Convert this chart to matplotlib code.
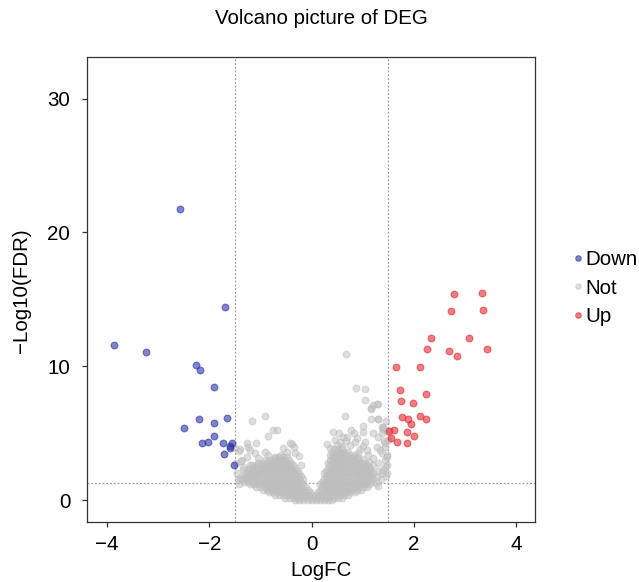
import numpy as np
import matplotlib
matplotlib.use("Agg")
import matplotlib.pyplot as plt
from matplotlib.lines import Line2D

plt.rcParams['font.family'] = ['Liberation Sans', 'DejaVu Sans']

# ---------------- data ----------------
down_x = [-2.58, -1.69, -3.86, -3.24, -2.27, -2.19, -1.90, -2.20, -1.90, -1.65,
          -2.49, -1.90, -2.02, -2.15, -1.73, -1.60, -1.59, -1.55, -1.72, -1.52]
down_y = [21.74, 14.40, 11.57, 11.07, 10.12, 9.72, 8.43, 6.07, 5.77, 6.12,
          5.40, 4.78, 4.37, 4.28, 4.25, 4.07, 3.93, 4.30, 3.43, 2.63]

up_x = [2.79, 3.34, 2.73, 3.35, 2.33, 3.08, 2.25, 2.69, 2.84, 3.44,
        1.66, 2.13, 1.73, 2.23, 1.75, 1.98, 1.76, 1.89, 1.94, 2.13,
        2.23, 1.62, 1.52, 1.86, 1.55, 2.00, 1.68, 1.87]
up_y = [15.37, 15.49, 14.13, 14.22, 12.11, 12.11, 11.27, 11.16, 10.79, 11.27,
        9.93, 9.93, 8.23, 7.93, 7.39, 7.26, 6.24, 6.07, 5.72, 6.31,
        6.07, 5.25, 5.15, 5.12, 4.65, 4.78, 4.35, 4.25]

# "Not" genes: dense core of the volcano, estimated row by row (y, x values)
not_core_rows = [
    (0.0, [-0.32, -0.24, -0.16, -0.08, 0.00, 0.08, 0.16, 0.24, 0.32, 0.40]),
    (0.2, [-0.52, -0.44, -0.36, -0.28, -0.20, -0.12, -0.04, 0.04, 0.12, 0.20, 0.28, 0.36,
           0.44, 0.52, 0.60]),
    (0.4, [-0.72, -0.64, -0.56, -0.48, -0.40, -0.32, -0.24, -0.16, -0.08, 0.00, 0.08, 0.16,
           0.24, 0.32, 0.40, 0.48, 0.56, 0.64, 0.72]),
    (0.6, [-0.84, -0.76, -0.68, -0.60, -0.52, -0.44, -0.36, -0.28, -0.20, -0.12, -0.04,
           0.12, 0.20, 0.28, 0.36, 0.44, 0.52, 0.60, 0.68, 0.76, 0.84]),
    (0.8, [-0.96, -0.88, -0.80, -0.72, -0.64, -0.56, -0.48, -0.40, -0.32, -0.24, -0.16, -0.08,
           0.16, 0.24, 0.32, 0.40, 0.48, 0.56, 0.64, 0.72, 0.80, 0.88, 0.96]),
    (1.0, [-1.08, -1.00, -0.92, -0.84, -0.76, -0.68, -0.60, -0.52, -0.44, -0.36, -0.28, -0.20,
           -0.12, 0.20, 0.28, 0.36, 0.44, 0.52, 0.60, 0.68, 0.76, 0.84, 0.92, 1.00, 1.08]),
    (1.2, [-1.20, -1.12, -1.04, -0.96, -0.88, -0.80, -0.72, -0.64, -0.56, -0.48, -0.40, -0.32,
           -0.24, -0.16, 0.16, 0.24, 0.32, 0.40, 0.48, 0.56, 0.64, 0.72, 0.80, 0.88, 0.96,
           1.04, 1.12]),
    (1.4, [-1.32, -1.24, -1.16, -1.08, -1.00, -0.92, -0.84, -0.76, -0.68, -0.60, -0.52, -0.44,
           -0.36, -0.28, -0.20, 0.20, 0.28, 0.36, 0.44, 0.52, 0.60, 0.68, 0.76, 0.84, 0.92,
           1.00, 1.08, 1.16]),
    (1.6, [-1.36, -1.28, -1.20, -1.12, -1.04, -0.96, -0.88, -0.80, -0.72, -0.64, -0.56, -0.48,
           -0.40, -0.32, -0.24, -0.16, 0.24, 0.32, 0.40, 0.48, 0.56, 0.64, 0.72, 0.80, 0.88,
           0.96, 1.04, 1.12, 1.20]),
    (1.8, [-1.32, -1.24, -1.16, -1.08, -1.00, -0.92, -0.84, -0.76, -0.68, -0.60, -0.52, -0.44,
           -0.36, -0.28, -0.20, 0.28, 0.36, 0.44, 0.52, 0.60, 0.68, 0.76, 0.84, 0.92, 1.00,
           1.08, 1.16]),
    (2.0, [-1.28, -1.20, -1.12, -1.04, -0.96, -0.88, -0.80, -0.72, -0.64, -0.56, -0.48, -0.40,
           -0.32, -0.24, 0.24, 0.32, 0.40, 0.48, 0.56, 0.64, 0.72, 0.80, 0.88, 0.96, 1.04,
           1.12, 1.20]),
    (2.2, [-1.24, -1.16, -1.08, -1.00, -0.92, -0.84, -0.76, -0.68, -0.60, -0.52, -0.44, -0.36,
           -0.28, 0.28, 0.36, 0.44, 0.52, 0.60, 0.68, 0.76, 0.84, 0.92, 1.00, 1.08, 1.16]),
    (2.4, [-1.20, -1.12, -1.04, -0.96, -0.88, -0.80, -0.72, -0.64, -0.56, -0.48, -0.40, -0.32,
           0.32, 0.40, 0.48, 0.56, 0.64, 0.72, 0.80, 0.88, 0.96, 1.04, 1.12]),
    (2.6, [-1.16, -1.08, -1.00, -0.92, -0.84, -0.76, -0.68, -0.60, -0.52, -0.44, -0.36,
           0.36, 0.44, 0.52, 0.60, 0.68, 0.76, 0.84, 0.92, 1.00, 1.08]),
    (2.8, [-1.04, -0.96, -0.88, -0.80, -0.72, -0.64, -0.56, -0.48, -0.40,
           0.32, 0.40, 0.48, 0.56, 0.64, 0.72, 0.80, 0.88, 0.96, 1.04]),
    (3.0, [-0.92, -0.84, -0.76, -0.68, -0.60, -0.52, -0.44,
           0.36, 0.44, 0.52, 0.60, 0.68, 0.76, 0.84, 0.92]),
    (3.2, [-0.72, -0.64, -0.56, -0.48, 0.40, 0.48, 0.56, 0.64, 0.72, 0.80, 0.88]),
    (3.4, [0.36, 0.44, 0.52, 0.60, 0.68, 0.76, 0.84]),
    (3.6, [0.40, 0.48, 0.56, 0.64, 0.72]),
    (3.8, [0.44, 0.52, 0.60]),
]

# "Not" genes: scattered points around the core
not_outer = [
    (0.67, 10.92), (0.87, 8.36), (1.04, 8.31), (1.04, 7.49), (0.65, 6.31), (1.29, 7.16),
    (1.17, 6.81), (1.21, 7.11), (1.17, 6.04), (1.29, 6.04), (1.01, 5.54), (1.40, 5.30),
    (1.47, 5.17), (0.42, 5.12), (0.54, 5.00), (0.83, 5.00), (0.70, 4.75), (0.46, 4.50),
    (1.21, 5.00), (1.30, 4.75), (1.41, 4.43), (0.85, 4.37), (1.04, 4.37), (1.01, 4.05),
    (1.27, 4.00), (1.43, 4.00), (1.08, 3.75), (1.37, 3.50), (1.47, 3.38), (1.21, 3.13),
    (1.43, 3.00), (1.30, 2.76), (1.47, 2.63), (1.40, 2.26), (1.47, 2.00), (1.27, 1.76),
    (1.14, 2.39), (1.37, 2.00), (1.43, 2.50), (1.47, 3.25), (1.34, 3.75), (1.43, 4.25),
    (1.37, 5.00), (1.37, 5.50), (1.46, 5.90), (1.00, 5.12), (0.78, 5.25), (0.62, 4.75),
    (0.88, 4.63), (1.39, 5.45), (1.49, 4.50), (1.30, 6.07), (1.17, 6.86), (1.27, 7.16),
    (1.25, 1.30), (1.35, 1.60), (1.30, 2.20), (1.20, 2.60), (1.45, 1.80), (1.30, 1.10),
    (0.35, 3.90), (0.50, 4.10), (0.60, 3.95), (0.75, 4.10), (0.95, 3.80), (0.90, 3.50),
    (1.10, 3.40), (0.30, 4.20), (0.55, 4.35), (0.68, 4.40), (1.00, 3.10), (1.12, 2.85),
    (-0.91, 6.31), (-1.17, 5.94), (-0.75, 5.25), (-0.67, 5.25), (-0.85, 4.82),
    (-1.27, 4.30), (-1.08, 4.30), (-1.40, 3.80), (-1.21, 3.75), (-0.91, 3.63),
    (-0.56, 3.88), (-0.39, 4.20), (-0.33, 3.55), (-0.72, 3.13), (-1.04, 3.13),
    (-1.34, 2.51), (-1.44, 1.51), (-1.27, 1.64), (-0.98, 2.39), (-1.47, 2.76),
    (-1.43, 3.70), (-0.42, 4.25), (-0.34, 3.96), (-1.24, 3.96), (-1.49, 3.88),
    (-1.27, 3.25), (-1.21, 2.63), (-1.37, 3.00), (-1.34, 2.26), (-1.40, 1.64),
    (-1.14, 1.51), (-1.45, 2.00), (-1.38, 2.90), (-1.42, 1.25), (-0.60, 3.40),
    (-0.85, 3.35), (-0.48, 3.60), (-1.10, 3.50), (-0.25, 3.30), (-0.20, 2.60),
]

# ---------------- assemble ----------------
core_x = [x for y, xs in not_core_rows for x in xs]
core_y = [y for y, xs in not_core_rows for x in xs]
not_x = np.array(core_x + [p[0] for p in not_outer])
not_y = np.array(core_y + [p[1] for p in not_outer])

col_down = "#2D32A5"
col_not = "#BEBEBE"
col_up = "#E6262F"

W, H = 639, 582
fig = plt.figure(figsize=(W / 100, H / 100), dpi=100)
ax = fig.add_axes([86.7 / W, 1 - 521.7 / H, (535 - 86.7) / W, (521.7 - 57) / H])

# threshold lines
ls = (0, (1.5, 1.5))
ax.axvline(-1.5, color="#A0A0A0", lw=0.9, ls=ls, zorder=1)
ax.axvline(1.5, color="#A0A0A0", lw=0.9, ls=ls, zorder=1)
ax.axhline(-np.log10(0.05), color="#A0A0A0", lw=0.9, ls=ls, zorder=1)

s = 24
ax.scatter(not_x, not_y, s=s, color=col_not, alpha=0.5, linewidths=0.8, zorder=2)
ax.scatter(down_x, down_y, s=s, color=col_down, alpha=0.6, linewidths=0.8, zorder=3)
ax.scatter(up_x, up_y, s=s, color=col_up, alpha=0.6, linewidths=0.8, zorder=3)

ax.set_xlim(-4.40, 4.37)
ax.set_ylim(-1.6, 33.1)
ax.set_xticks([-4, -2, 0, 2, 4])
ax.set_yticks([0, 10, 20, 30])

fs = 14.8
for sp in ax.spines.values():
    sp.set_color("#333333")
    sp.set_linewidth(0.9)
ax.tick_params(axis="both", direction="out", length=3.8, width=0.9, color="#333333",
               labelsize=fs, labelcolor="black")
ax.tick_params(axis="x", pad=6)
ax.tick_params(axis="y", pad=8)

fig.text(321 / W, 1 - 18 / H, "Volcano picture of DEG", ha="center", va="center", fontsize=fs)
fig.text(321 / W, 1 - 571 / H, "LogFC", ha="center", va="center", fontsize=fs)
fig.text(22 / W, 1 - 291 / H, "\u2212Log10(FDR)", ha="center", va="center",
         rotation=90, fontsize=fs)

handles = [
    Line2D([], [], ls="none", marker="o", markersize=4, color=col_down, alpha=0.6, markeredgewidth=0.8),
    Line2D([], [], ls="none", marker="o", markersize=4, color=col_not, alpha=0.5, markeredgewidth=0.8),
    Line2D([], [], ls="none", marker="o", markersize=4, color=col_up, alpha=0.6, markeredgewidth=0.8),
]
fig.legend(handles, ["Down", "Not", "Up"], loc="center left",
           bbox_to_anchor=(557 / W, 1 - 288 / H), frameon=False, fontsize=fs,
           handlelength=0.6, handletextpad=0.1, labelspacing=0.45, borderpad=0.2)

fig.savefig("out.png", dpi=100)
